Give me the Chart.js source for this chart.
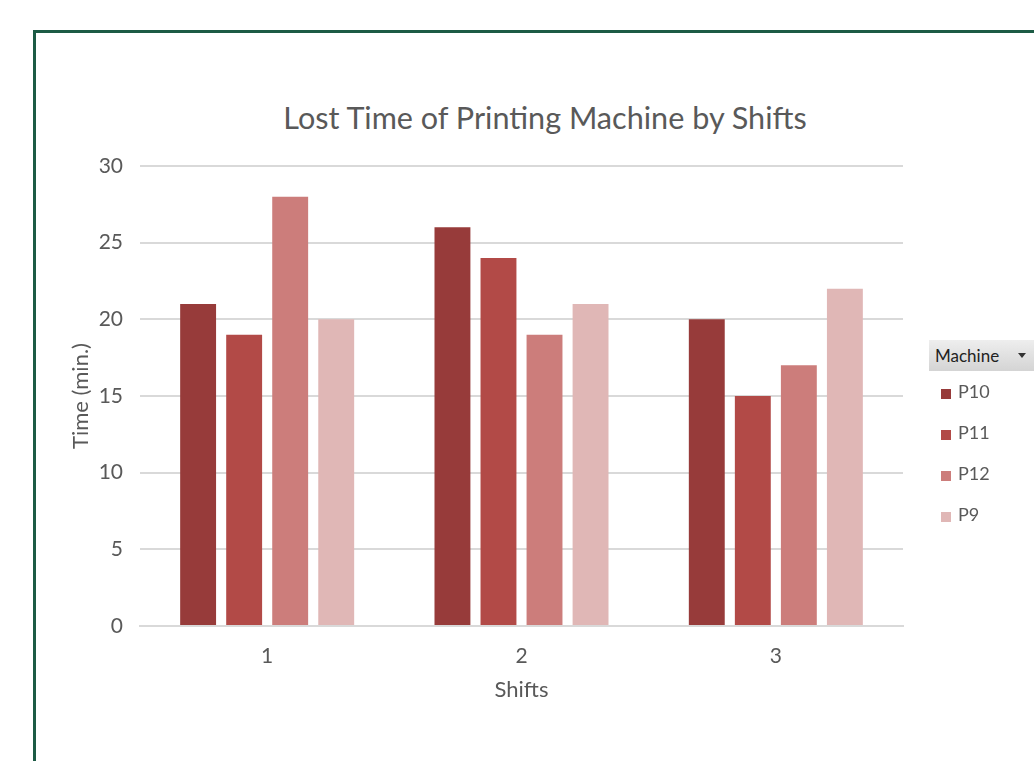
<!DOCTYPE html>
<html>
<head>
<meta charset="utf-8">
<script src="https://cdn.jsdelivr.net/npm/chart.js@4/dist/chart.umd.min.js"></script>
<style>
  html, body { margin: 0; padding: 0; background: #fff; overflow: hidden; }
  body { width: 1034px; height: 761px; position: relative; font-family: Lato, "Open Sans", sans-serif; }
  #frame { position: absolute; left: 33px; top: 30px; width: 1100px; height: 800px;
           border-left: 3px solid #1c5b45; border-top: 3px solid #1c5b45; box-sizing: border-box; }
  #wrap { position: absolute; left: 0; top: 0; width: 1034px; height: 761px; }
  #title { position: absolute; top: 100px; left: 0; width: 1090px; text-align: center;
           font-size: 30.6px; line-height: 36px; color: #595959; }
  #legend { position: absolute; left: 929px; top: 340px; width: 105px; }
  #legend .head { height: 31px; line-height: 31px; padding-left: 6px; font-size: 17px; color: #222;
                  background: linear-gradient(#eeeeee, #d4d4d4); position: relative; }
  #legend .head .arrow { position: absolute; right: 8px; top: 13px; width: 0; height: 0;
                  border-left: 4px solid transparent; border-right: 4px solid transparent; border-top: 5px solid #333; }
  #legend .item { height: 41px; line-height: 41px; font-size: 18px; color: #595959; padding-left: 12px; }
  #legend .item i { display: inline-block; width: 10px; height: 10px; margin-right: 7px; vertical-align: -1px; }
</style>
</head>
<body>
<div id="frame"></div>
<div id="title">Lost Time of Printing Machine by Shifts</div>
<div id="wrap"><canvas id="c" width="1034" height="761"></canvas></div>
<div id="legend"></div>
<script>
// Lost minutes per printing machine, per shift
const shifts = ['1', '2', '3'];
const machines = ['P10', 'P11', 'P12', 'P9'];
const p10 = [21, 26, 20];
const p11 = [19, 24, 15];
const p12 = [28, 19, 17];
const p9  = [20, 21, 22];
const machineColors = ['#973b3a', '#b24a47', '#cc7d7b', '#e0b7b6'];
const yTicks = [0, 5, 10, 15, 20, 25, 30];

const seriesValues = [p10, p11, p12, p9];

const datasets = machines.map((name, i) => ({
  label: name,
  data: seriesValues[i],
  backgroundColor: machineColors[i],
  borderWidth: 0,
  barPercentage: 0.78,
  categoryPercentage: 0.724
}));

// Legend header with the filter arrow, followed by one row per machine
const legend = document.getElementById('legend');
legend.innerHTML = '<div class="head">Machine<span class="arrow"></span></div>' +
  machines.map((m, i) => `<div class="item"><i style="background:${machineColors[i]}"></i>${m}</div>`).join('');

new Chart(document.getElementById('c'), {
  type: 'bar',
  data: { labels: shifts, datasets },
  options: {
    responsive: false,
    animation: false,
    layout: { padding: { left: 60, right: 131, top: 166, bottom: 55 } },
    plugins: { legend: { display: false }, tooltip: { enabled: false } },
    scales: {
      x: {
        grid: { display: false, drawTicks: false },
        border: { color: '#d9d9d9', width: 2 },
        ticks: { color: '#595959', font: { family: 'Lato', size: 21 }, padding: 18 },
        title: { display: true, text: 'Shifts', color: '#595959', font: { family: 'Lato', size: 22 }, padding: { top: 0, bottom: 3 } },
        afterFit: s => { s.height = 80; }
      },
      y: {
        min: 0, max: 30,
        afterBuildTicks: s => { s.ticks = yTicks.map(v => ({ value: v })); },
        grid: { color: '#d9d9d9', lineWidth: 2, drawTicks: false },
        border: { display: false },
        ticks: { color: '#595959', font: { family: 'Lato', size: 21 }, padding: 17 },
        title: { display: true, text: 'Time (min.)', color: '#595959', font: { family: 'Lato', size: 22 }, padding: { top: 8, bottom: 0 } },
        afterFit: s => { s.width = 80; }
      }
    }
  }
});
</script>
</body>
</html>
